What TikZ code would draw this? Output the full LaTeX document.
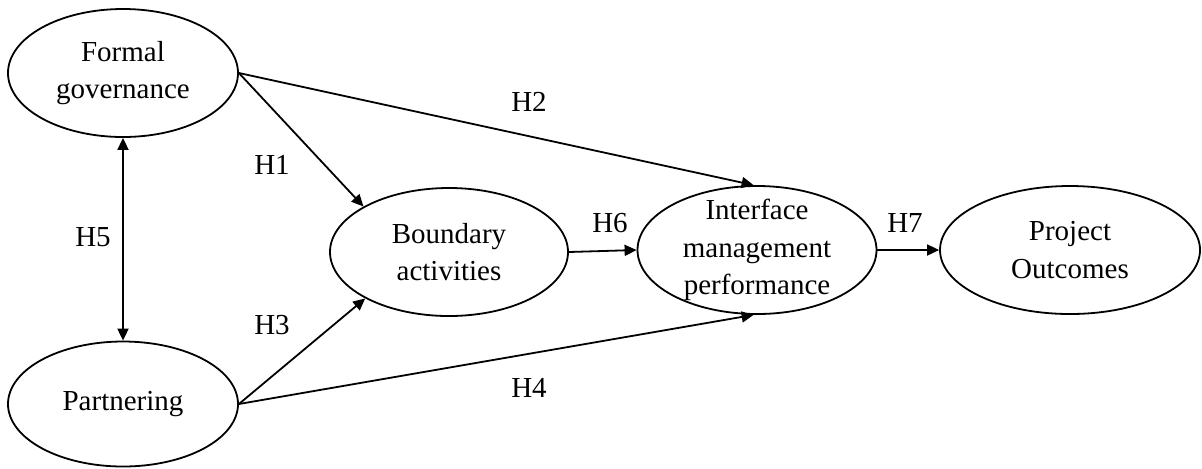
\documentclass[tikz,border=0pt]{standalone}
\usepackage{fontspec}
\setmainfont{Liberation Serif}
\usetikzlibrary{arrows.meta,shapes.geometric}

\begin{document}
\begin{tikzpicture}[
  x=0.5pt, y=-0.5pt,
  cons/.style={draw, ellipse, line width=0.9pt, align=center,
              font=\fontsize{14.5}{18.7}\selectfont,
              inner xsep=-20pt, inner ysep=-20pt,
              minimum width=115pt, minimum height=64pt},
  hyp/.style={font=\fontsize{14.5}{16}\selectfont, inner sep=0pt},
  arw/.style={-{Triangle[length=6pt, width=5.5pt]}, line width=0.9pt},
  darw/.style={{Triangle[length=6pt, width=5.5pt]}-{Triangle[length=6pt, width=5.5pt]}, line width=0.9pt}
]
\useasboundingbox (0,0) rectangle (1202,468);
\node[cons] (formal) at (123,73) {Formal\\governance};
\node[cons, minimum height=62.5pt] (partner) at (123,404) {Partnering};
\node[cons, minimum width=119pt] (bound) at (449,252) {Boundary\\activities};
\node[cons, minimum width=119.5pt] (iface) at (757,250) {Interface\\management\\performance};
\node[cons, minimum width=130pt] (outc) at (1070,250) {Project\\Outcomes};

\draw[darw] (formal.south) -- (partner.north);
\draw[arw] (formal.east) -- (bound.152);
\draw[arw] (formal.east) -- (iface.93);
\draw[arw] (partner.east) -- (bound.209);
\draw[arw] (partner.east) -- (iface.267);
\draw[arw] (bound.east) -- (iface.west);
\draw[arw] (iface.east) -- (outc.west);

\node[hyp] (h1) at (272,165) {H1};
\node[hyp] (h2) at (529,102) {H2};
\node[hyp] (h3) at (272,325) {H3};
\node[hyp] (h4) at (529,388) {H4};
\node[hyp] (h5) at (93,237) {H5};
\node[hyp] (h6) at (610,223) {H6};
\node[hyp] (h7) at (905,223) {H7};
\end{tikzpicture}
\end{document}
